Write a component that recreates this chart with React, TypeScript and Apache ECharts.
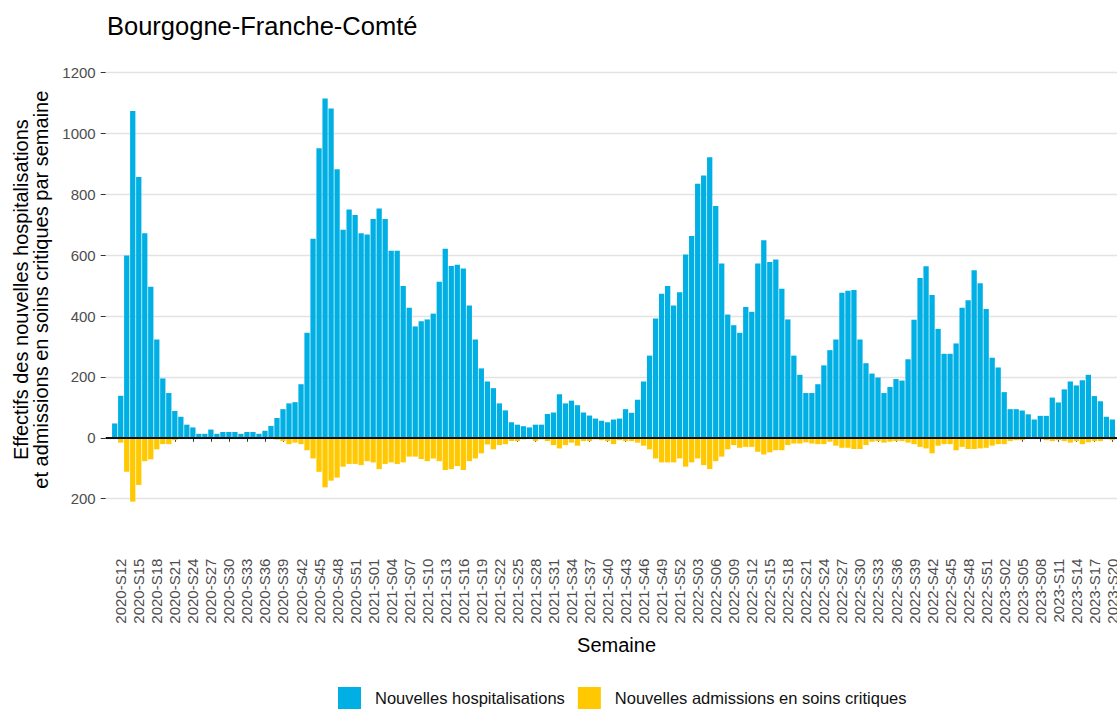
import React, { useEffect, useRef } from "react";
import * as echarts from "echarts";

// Weekly spans: [year, first week, last week]
const WEEK_SPANS: [number, number, number][] = [
  [2020, 11, 53],
  [2021, 1, 52],
  [2022, 1, 52],
  [2023, 1, 20],
];

// Nouvelles hospitalisations (2020-S11 .. 2023-S20)
const HOSP: number[] = [
  47, 138, 599, 1074, 857, 672, 496, 323, 195, 147,
  88, 69, 43, 34, 13, 13, 27, 13, 19, 19,
  19, 13, 19, 19, 13, 23, 39, 65, 94, 113,
  117, 176, 345, 654, 952, 1115, 1082, 883, 684, 750,
  732, 672, 668, 719, 754, 719, 615, 615, 499, 427,
  366, 383, 389, 408, 513, 621, 565, 569, 556, 435,
  323, 228, 185, 163, 113, 90, 51, 43, 38, 34,
  43, 43, 78, 83, 143, 113, 122, 107, 83, 73,
  63, 56, 51, 60, 63, 94, 82, 125, 185, 270,
  392, 473, 499, 435, 478, 602, 663, 835, 862, 922,
  762, 573, 405, 370, 345, 430, 414, 573, 649, 578,
  586, 490, 389, 270, 207, 147, 147, 176, 238, 288,
  323, 477, 483, 486, 323, 245, 211, 198, 147, 167,
  193, 188, 258, 388, 525, 564, 469, 358, 276, 276,
  310, 427, 452, 551, 508, 423, 263, 231, 150, 94,
  94, 90, 77, 60, 72, 72, 132, 116, 159, 185,
  172, 189, 207, 137, 120, 69, 60,
];

// Nouvelles admissions en soins critiques (magnitudes, drawn downward)
const CRIT: number[] = [
  0, 16, 112, 210, 155, 77, 71, 38, 21, 21,
  8, 4, 2, 1, 1, 1, 1, 0, 1, 1,
  0, 1, 1, 1, 1, 3, 4, 6, 11, 21,
  16, 21, 41, 68, 112, 163, 141, 131, 95, 86,
  86, 90, 77, 81, 103, 86, 81, 86, 81, 62,
  62, 70, 77, 68, 77, 106, 103, 93, 106, 77,
  68, 51, 22, 38, 24, 21, 11, 11, 5, 3,
  11, 5, 11, 24, 35, 24, 16, 26, 11, 11,
  5, 8, 11, 21, 8, 11, 11, 16, 26, 38,
  68, 81, 81, 81, 68, 95, 81, 68, 90, 103,
  77, 62, 38, 24, 33, 30, 30, 46, 55, 48,
  41, 41, 24, 19, 19, 15, 19, 21, 21, 13,
  26, 33, 33, 37, 37, 24, 13, 11, 16, 13,
  11, 11, 16, 21, 30, 35, 51, 26, 21, 21,
  41, 30, 37, 37, 35, 33, 26, 21, 21, 11,
  8, 8, 3, 3, 3, 8, 11, 8, 11, 16,
  11, 21, 15, 11, 11, 5, 8,
];

const Y_TICKS = { min: -200, max: 1200, step: 200 };
const FIRST_LABEL = "2020-S12";
const LABEL_EVERY = 3;

const FONT = "'Liberation Sans', Arial, Helvetica, sans-serif";

function buildWeeks(): string[] {
  const out: string[] = [];
  for (const [y, a, b] of WEEK_SPANS) {
    for (let w = a; w <= b; w++) out.push(`${y}-S${String(w).padStart(2, "0")}`);
  }
  return out;
}

export default function App() {
  const ref = useRef<HTMLDivElement>(null);

  useEffect(() => {
    if (!ref.current) return;
    const chart = echarts.init(ref.current, undefined, { renderer: "svg" });
    const weeks = buildWeeks();
    // one empty slot before and two after, like the panel padding of the original
    const cats = ["", ...weeks, " ", "  "];
    const firstIdx = cats.indexOf(FIRST_LABEL);
    const showAt = (i: number) =>
      i >= firstIdx && i < weeks.length + 1 && (i - firstIdx) % LABEL_EVERY === 0;
    const hosp = [null, ...HOSP, null, null];
    const crit = [null, ...CRIT.map((v) => -v), null, null];

    chart.setOption({
      animation: false,
      backgroundColor: "#ffffff",
      textStyle: { fontFamily: FONT },
      title: {
        text: "Bourgogne-Franche-Comté",
        left: 102,
        top: 8,
        textStyle: { fontFamily: FONT, fontSize: 25.5, fontWeight: "normal", color: "#000" },
      },
      legend: {
        left: 338,
        top: 687,
        padding: 0,
        itemWidth: 23,
        itemHeight: 22,
        itemGap: 13,
        icon: "rect",
        textStyle: { fontFamily: FONT, fontSize: 16.5, color: "#111", padding: [0, 0, 0, 9] },
        data: ["Nouvelles hospitalisations", "Nouvelles admissions en soins critiques"],
      },
      grid: { left: 105.7, top: 72.7, width: 1021.7, height: 425.9 },
      xAxis: {
        type: "category",
        data: cats,
        offset: 52,
        name: "Semaine",
        nameLocation: "middle",
        nameGap: 84,
        nameTextStyle: { fontFamily: FONT, fontSize: 20, color: "#000" },
        axisLine: { show: false },
        axisTick: {
          show: true,
          alignWithLabel: true,
          length: 4,
          interval: (i: number) => showAt(i),
          lineStyle: { color: "#333", width: 1 },
        },
        axisLabel: {
          rotate: 90,
          interval: (i: number) => showAt(i),
          fontFamily: FONT,
          fontSize: 15,
          color: "#4D4D4D",
          margin: 8,
        },
        splitLine: { show: false },
      },
      yAxis: {
        type: "value",
        min: Y_TICKS.min,
        max: Y_TICKS.max,
        interval: Y_TICKS.step,
        name: "Effectifs des nouvelles hospitalisations\net admissions en soins critiques par semaine",
        nameLocation: "middle",
        nameRotate: 90,
        nameGap: 50,
        nameTextStyle: { fontFamily: FONT, fontSize: 20, color: "#000", lineHeight: 20, padding: [0, 8, 0, 0] },
        axisLine: { show: false },
        axisTick: { show: true, length: 5, lineStyle: { color: "#333", width: 1 } },
        axisLabel: {
          fontFamily: FONT,
          fontSize: 15,
          color: "#4D4D4D",
          margin: 10,
          formatter: (v: number) => String(Math.abs(v)),
        },
        splitLine: { show: true, lineStyle: { color: "#E3E3E3", width: 1.3 } },
      },
      series: [
        {
          name: "Nouvelles hospitalisations",
          type: "bar",
          stack: "total",
          data: hosp,
          barCategoryGap: "12%",
          clip: false,
          itemStyle: { color: "#00B0E4" },
          markLine: {
            silent: true,
            symbol: "none",
            label: { show: false },
            lineStyle: { color: "#111", width: 2, type: "solid" },
            data: [{ yAxis: 0 }],
          },
        },
        {
          name: "Nouvelles admissions en soins critiques",
          type: "bar",
          stack: "total",
          data: crit,
          barCategoryGap: "12%",
          clip: false,
          itemStyle: { color: "#FFC800" },
        },
      ],
    });
    return () => chart.dispose();
  }, []);

  return (
    <div style={{ position: "fixed", left: 0, top: 0, width: 1117, height: 709, overflow: "hidden", background: "#fff" }}>
      <div ref={ref} style={{ width: 1128, height: 709 }} />
    </div>
  );
}
